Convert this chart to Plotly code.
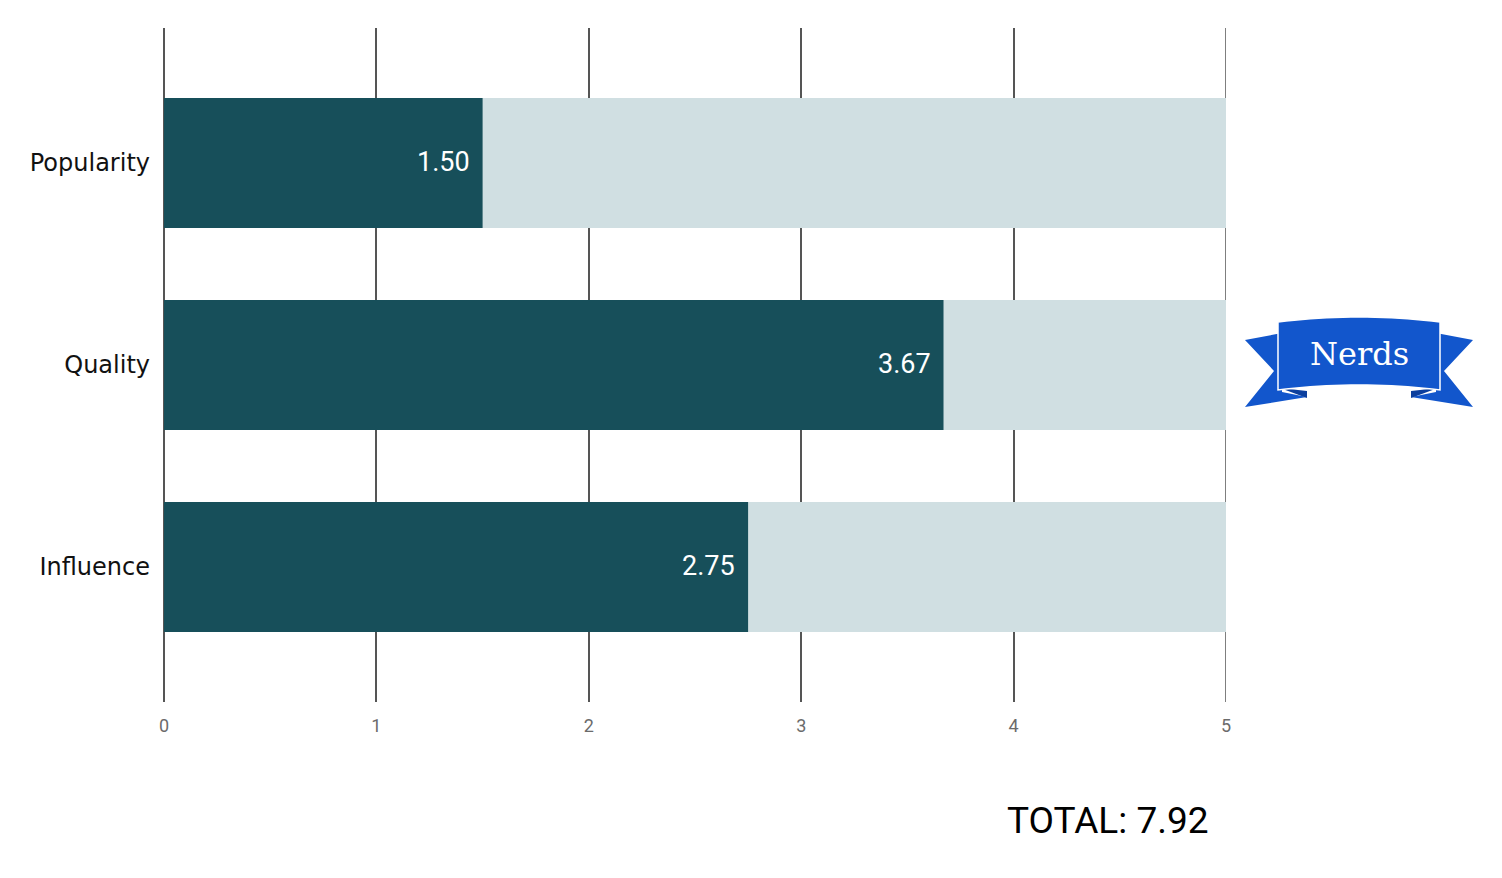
import plotly.graph_objects as go

categories = ["Popularity", "Quality", "Influence"]
scores = [1.50, 3.67, 2.75]
max_score = [5, 5, 5]
total_label = "TOTAL: 7.92"
badge_text = "Nerds"
x_ticks = [0, 1, 2, 3, 4, 5]

OFF = 8  # page body margin
W, H = 1502 - 2 * OFF, 878 - 2 * OFF
L, R, T, B = 164, 1226, 28, 702  # plot area in screen pixels

def px(x, y):
    return (x - L) / (R - L), (B - y) / (B - T)

def path(points):
    s = ""
    for i, (x, y) in enumerate(points):
        a, b = px(x, y)
        s += ("M" if i == 0 else "L") + f"{a:.5f},{b:.5f} "
    return s + "Z"

fig = go.Figure()
fig.add_trace(go.Bar(
    y=categories, x=max_score, orientation="h",
    marker=dict(color="#d0dfe2", line=dict(width=0)),
    width=0.644, hoverinfo="skip", showlegend=False,
))
fig.add_trace(go.Bar(
    y=categories, x=scores, orientation="h",
    marker=dict(color="#174f5a", line=dict(width=0)),
    width=0.644, showlegend=False,
))

annotations = []
for c, v in zip(categories, scores):
    annotations.append(dict(x=v, y=c, xref="x", yref="y", text=f"{v:.2f}",
                            xanchor="right", yanchor="middle", xshift=-11, yshift=1,
                            showarrow=False,
                            font=dict(family="Roboto", size=27, color="white")))

# ribbon badge
blue = "#1256cc"
dark = "#0c3f9e"
shapes = []
# gridline at the right edge of the range (plotly omits it at the boundary)
shapes.append(dict(type="line", xref="x", yref="paper", x0=x_ticks[-1], x1=x_ticks[-1],
                   y0=0, y1=1, line=dict(color="#555555", width=1.5), layer="below"))
left_tail = [(1245, 340), (1282, 333), (1282, 392), (1307, 397), (1245, 407), (1274, 371)]
right_tail = [(1473, 340), (1436, 333), (1436, 392), (1411, 397), (1473, 407), (1444, 371)]
for pts in (left_tail, right_tail):
    shapes.append(dict(type="path", xref="paper", yref="paper", path=path(pts),
                       fillcolor=blue, line=dict(width=0), layer="above"))
for pts in ([(1280, 388), (1307, 391), (1307, 398)], [(1438, 388), (1411, 391), (1411, 398)]):
    shapes.append(dict(type="path", xref="paper", yref="paper", path=path(pts),
                       fillcolor=dark, line=dict(width=0), layer="above"))
top = []
bot = []
n = 20
for i in range(n + 1):
    t = i / n
    x = 1278 + t * (1440 - 1278)
    bump = 4 * t * (1 - t)
    top.append((x, 322 - 5 * bump))
    bot.append((x, 390 - 5 * bump))
main = top + bot[::-1]
shapes.append(dict(type="path", xref="paper", yref="paper", path=path(main),
                   fillcolor=blue, line=dict(width=1.5, color="white"), layer="above"))

bx, by = px(1359, 354)
tx, ty = px(1108, 820)
annotations += [
    dict(text=badge_text, xref="paper", yref="paper", x=bx, y=by, xanchor="center", yanchor="middle",
         showarrow=False, font=dict(family="DejaVu Serif", size=32, color="white")),
    dict(text=total_label, xref="paper", yref="paper", x=tx, y=ty, xanchor="center", yanchor="middle",
         showarrow=False, font=dict(family="Roboto", size=37, color="black")),
]

fig.update_layout(
    width=W, height=H,
    margin=dict(l=L - OFF, r=(W + OFF) - R, t=T - OFF, b=(H + OFF) - B),
    paper_bgcolor="white", plot_bgcolor="white",
    barmode="overlay",
    shapes=shapes,
    annotations=annotations,
    xaxis=dict(range=[0, 5], tickvals=x_ticks, showgrid=True, gridcolor="#555555",
               gridwidth=1.5, zeroline=True, zerolinecolor="#555555", zerolinewidth=1.5,
               showline=False, ticks="", ticklen=0, ticklabelstandoff=11,
               tickfont=dict(family="Roboto", size=18, color="#6b6b6b")),
    yaxis=dict(range=[2.668, -0.668], showgrid=False, zeroline=False, ticks="",
               ticklabelstandoff=13,
               tickfont=dict(family="DejaVu Sans", size=24, color="#111111")),
)
fig.write_html("out.html")
